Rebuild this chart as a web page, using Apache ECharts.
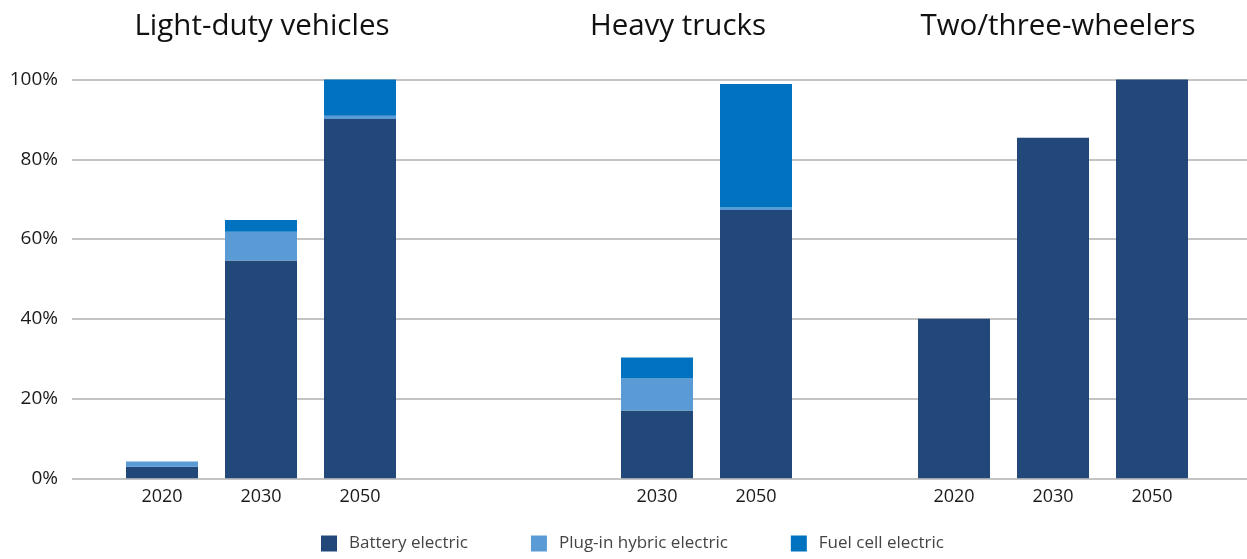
<!DOCTYPE html>
<html>
<head>
<meta charset="utf-8">
<script src="https://cdn.jsdelivr.net/npm/echarts@6/dist/echarts.min.js"></script>
<style>
  html, body { margin: 0; padding: 0; background: #fff; }
  #main { width: 1247px; height: 559px; }
</style>
</head>
<body>
<div id="main"></div>
<script>
// slots: light-duty (3), gap, gap, heavy trucks (2030, 2050), gap, two/three-wheelers (3)
var categories = ['2020', '2030', '2050', ' ', '  ', '2030 ', '2050 ', '   ', '2020 ', '2030  ', '2050  '];
var battery = [2.9, 54.6, 90.1, null, null, 17.0, 67.3, null, 40, 85.4, 100];
var plugin = [1.3, 7.2, 0.8, null, null, 8.0, 0.6, null, 0, 0, 0];
var fuelCell = [0, 3.0, 9.1, null, null, 5.3, 31.0, null, 0, 0, 0];
var groupTitles = ['Light-duty vehicles', 'Heavy trucks', 'Two/three-wheelers'];
var titleX = [257, 673, 1053];
var yTicks = [0, 20, 40, 60, 80, 100];

var font = '"Open Sans", "Noto Sans", sans-serif';
var Myecharts = echarts.init(document.getElementById('main'));

var titles = [];
for (var i = 0; i < groupTitles.length; i++) {
    titles.push({
        text: groupTitles[i],
        left: titleX[i],
        top: 7,
        textAlign: 'center',
        textStyle: { fontFamily: font, fontSize: 29.5, fontWeight: 'normal', color: '#111' }
    });
}

var option = {
    animation: false,
    title: titles,
    legend: {
        data: ['Battery electric', 'Plug-in hybric electric', 'Fuel cell electric'],
        left: 321,
        top: 535,
        padding: 0,
        itemWidth: 16,
        itemHeight: 16,
        itemGap: 63,
        icon: 'rect',
        textStyle: { fontFamily: font, fontSize: 17, color: '#444', padding: [0, 0, 0, 7] }
    },
    grid: [
        { left: 72, right: 0, top: 79.5, bottom: 80.7 },
        { left: 112.5, width: 1089, top: 79.5, bottom: 80.7 }
    ],
    xAxis: [{
        gridIndex: 0,
        type: 'value',
        min: 0, max: 1,
        show: false
    }, {
        gridIndex: 1,
        type: 'category',
        data: categories,
        axisLine: { show: false },
        axisTick: { show: false },
        axisLabel: {
            margin: 10,
            interval: 0,
            fontFamily: font,
            fontSize: 18,
            color: '#1a1a1a',
            formatter: function (v) { return v.trim(); }
        }
    }],
    yAxis: [{
        gridIndex: 0,
        type: 'value',
        min: yTicks[0],
        max: yTicks[yTicks.length - 1],
        interval: 20,
        axisLine: { show: false },
        axisTick: { show: false },
        axisLabel: {
            formatter: '{value}%',
            margin: 14,
            fontFamily: font,
            fontSize: 19,
            color: '#1a1a1a'
        },
        splitLine: { lineStyle: { color: '#b0b0b0', width: 1.5 } }
    }, {
        gridIndex: 1,
        type: 'value',
        min: 0, max: 100,
        show: false,
        splitLine: { show: false }
    }],
    series: [{
        name: 'Battery electric',
        type: 'bar',
        stack: 'share',
        xAxisIndex: 1, yAxisIndex: 1,
        barWidth: 72,
        data: battery,
        itemStyle: { color: '#22487a' }
    }, {
        name: 'Plug-in hybric electric',
        type: 'bar',
        stack: 'share',
        xAxisIndex: 1, yAxisIndex: 1,
        barWidth: 72,
        data: plugin,
        itemStyle: { color: '#5b9bd5' }
    }, {
        name: 'Fuel cell electric',
        type: 'bar',
        stack: 'share',
        xAxisIndex: 1, yAxisIndex: 1,
        barWidth: 72,
        data: fuelCell,
        itemStyle: { color: '#0072bf' }
    }]
};
Myecharts.setOption(option);
</script>
</body>
</html>
